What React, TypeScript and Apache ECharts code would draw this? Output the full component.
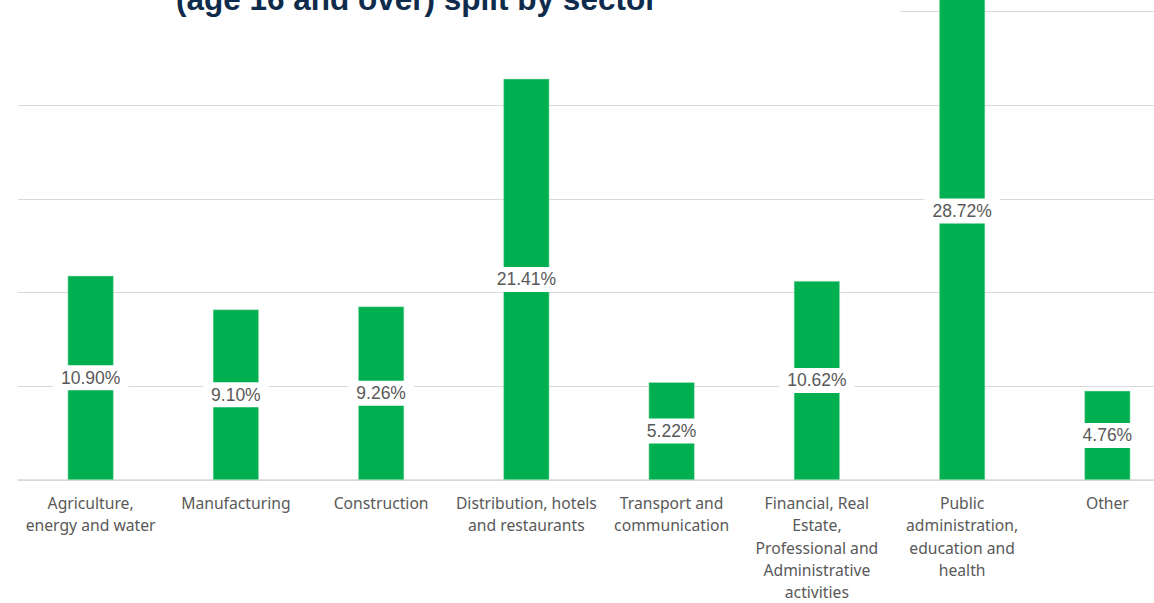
import React, { useEffect, useRef } from "react";
import * as echarts from "echarts";

const categories: string[] = [
  "Agriculture,\nenergy and water",
  "Manufacturing",
  "Construction",
  "Distribution, hotels\nand restaurants",
  "Transport and\ncommunication",
  "Financial, Real\nEstate,\nProfessional and\nAdministrative\nactivities",
  "Public\nadministration,\neducation and\nhealth",
  "Other",
];
const shares: number[] = [10.9, 9.1, 9.26, 21.41, 5.22, 10.62, 28.72, 4.76];
const titleText = "(age 16 and over) split by sector";

const OFFSET = 90;

export default function App() {
  const ref = useRef<HTMLDivElement>(null);
  useEffect(() => {
    document.documentElement.style.overflow = "hidden";
    document.body.style.overflow = "hidden";
    document.body.style.margin = "0";
    if (!ref.current) return;
    const chart = echarts.init(ref.current, undefined, { renderer: "svg" });
    chart.setOption({
      animation: false,
      grid: { left: 18, top: OFFSET - 82.2, width: 1162, height: 567.7, containLabel: false },
      xAxis: {
        type: "category",
        data: categories,
        axisLine: { show: true, lineStyle: { color: "#d9d9d9", width: 1.5 } },
        axisTick: { show: false },
        axisLabel: {
          interval: 0,
          margin: 12,
          color: "#595959",
          fontFamily: "Noto Sans",
          fontSize: 15.7,
          lineHeight: 22.2,
          align: "center",
        },
      },
      yAxis: {
        type: "value",
        min: 0,
        max: 30,
        interval: 5,
        axisLabel: { show: false },
        axisLine: { show: false },
        axisTick: { show: false },
        splitLine: { lineStyle: { color: "#d9d9d9", width: 1 } },
      },
      series: [
        {
          type: "bar",
          data: shares,
          barWidth: 46,
          itemStyle: { color: "#00b050", borderColor: "#b8e6c8", borderWidth: 0.5 },
          label: {
            show: true,
            position: "inside",
            formatter: (p: any) => p.value.toFixed(2) + "%",
            color: "#595959",
            fontFamily: "Liberation Sans",
            fontSize: 17.5,
            backgroundColor: "#ffffff",
            padding: [4, 8, 3, 8],
          },
        },
      ],
      graphic: [
        {
          type: "rect",
          left: 0,
          top: OFFSET - 10,
          shape: { width: 900, height: 30 },
          style: { fill: "#ffffff" },
          z: 10,
        },
        {
          type: "text",
          x: 176,
          y: OFFSET - 1.5,
          z: 11,
          style: {
            text: titleText,
            fill: "#0f2b4c",
            font: "bold 31.5px 'Liberation Sans'",
            verticalAlign: "middle",
            align: "left",
          },
        },
      ],
    });
    return () => chart.dispose();
  }, []);
  return (
    <div style={{ position: "fixed", left: 0, top: 0, width: 1154, height: 603, overflow: "hidden", background: "#fff" }}>
      <div ref={ref} style={{ position: "absolute", left: 0, top: -OFFSET, width: 1200, height: 603 + OFFSET }} />
    </div>
  );
}
